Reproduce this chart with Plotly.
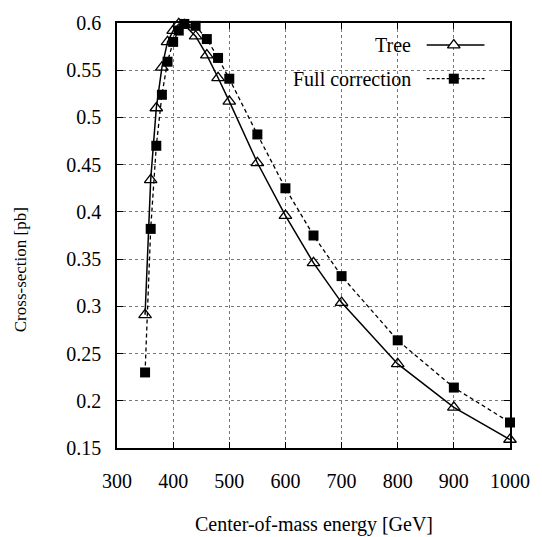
import plotly.graph_objects as go

energy = [350, 360, 370, 380, 390, 400, 410, 420, 440, 460, 480, 500, 550, 600, 650, 700, 800, 900, 1000]
tree = [0.291, 0.434, 0.510, 0.553, 0.580, 0.592, 0.599, 0.598, 0.586, 0.566, 0.542, 0.517, 0.452, 0.396, 0.346, 0.304, 0.239, 0.193, 0.159]
full = [0.230, 0.382, 0.470, 0.524, 0.559, 0.580, 0.592, 0.599, 0.597, 0.583, 0.563, 0.541, 0.482, 0.425, 0.375, 0.332, 0.264, 0.214, 0.177]

x_ticks = [300, 400, 500, 600, 700, 800, 900, 1000]
y_ticks = [0.15, 0.2, 0.25, 0.3, 0.35, 0.4, 0.45, 0.5, 0.55, 0.6]
y_tick_text = ["0.15", "0.2", "0.25", "0.3", "0.35", "0.4", "0.45", "0.5", "0.55", "0.6"]

FONT = "Times New Roman"

fig = go.Figure()
fig.add_trace(go.Scatter(x=energy, y=tree, mode="lines+markers", name="Tree",
                         line=dict(color="black", width=1.5),
                         marker=dict(symbol="triangle-up-open", size=11, color="black",
                                     line=dict(width=1.3, color="black")),
                         cliponaxis=False, showlegend=False))
fig.add_trace(go.Scatter(x=energy, y=full, mode="lines+markers", name="Full correction",
                         line=dict(color="black", width=1.3, dash="4px,3px"),
                         marker=dict(symbol="square", size=10, color="black"),
                         cliponaxis=False, showlegend=False))

# legend samples on an overlay axis (paper-like 0..1)
fig.add_trace(go.Scatter(x=[0.788, 0.935], y=[0.948, 0.948], mode="lines",
                         line=dict(color="black", width=1.5), xaxis="x2", yaxis="y2",
                         showlegend=False, hoverinfo="skip"))
fig.add_trace(go.Scatter(x=[0.857], y=[0.948], mode="markers",
                         marker=dict(symbol="triangle-up", size=11, color="white",
                                     line=dict(width=1.3, color="black")),
                         xaxis="x2", yaxis="y2", showlegend=False, hoverinfo="skip"))
fig.add_trace(go.Scatter(x=[0.788, 0.935], y=[0.869, 0.869], mode="lines",
                         line=dict(color="black", width=1.2, dash="3px,2px"), xaxis="x2", yaxis="y2",
                         showlegend=False, hoverinfo="skip"))
fig.add_trace(go.Scatter(x=[0.857], y=[0.869], mode="markers",
                         marker=dict(symbol="square", size=10, color="black"),
                         xaxis="x2", yaxis="y2", showlegend=False, hoverinfo="skip"))

plot_w = 542 - 117 - 24
plot_h = 537 - 20 - 89

fig.update_layout(
    width=542, height=537,
    margin=dict(l=117, r=24, t=20, b=89),
    paper_bgcolor="white", plot_bgcolor="white",
    font=dict(family=FONT, color="black", size=20),
    xaxis=dict(range=[300, 1000], tickvals=x_ticks, ticks="inside", ticklen=6,
               tickcolor="black", showline=True, linecolor="black", linewidth=1.5,
               mirror="ticks", showgrid=True, gridcolor="#777", griddash="dot", gridwidth=1,
               zeroline=False, tickfont=dict(family=FONT, size=20), ticklabelstandoff=14),
    yaxis=dict(range=[0.15, 0.6], tickvals=y_ticks, ticktext=y_tick_text, ticks="inside", ticklen=6,
               tickcolor="black", showline=True, linecolor="black", linewidth=1.5,
               mirror="ticks", showgrid=True, gridcolor="#777", griddash="dot", gridwidth=1,
               zeroline=False, tickfont=dict(family=FONT, size=20), ticklabelstandoff=10),
    xaxis2=dict(range=[0, 1], overlaying="x", visible=False),
    yaxis2=dict(range=[0, 1], overlaying="y", visible=False),
    annotations=[
        dict(text="Tree", x=0.753, y=0.948, xref="paper", yref="paper", xanchor="right",
             yanchor="middle", showarrow=False, font=dict(family=FONT, size=20)),
        dict(text="Full correction", x=0.753, y=0.869, xref="paper", yref="paper", xanchor="right",
             yanchor="middle", showarrow=False, font=dict(family=FONT, size=20)),
        dict(text="Cross-section [pb]", x=(18 - 117) / plot_w, y=1 - (268 - 20) / plot_h,
             xref="paper", yref="paper", xanchor="center", yanchor="middle",
             showarrow=False, textangle=-90, font=dict(family=FONT, size=17)),
        dict(text="Center-of-mass energy [GeV]", x=0.5, y=1 - (525 - 20) / plot_h,
             xref="paper", yref="paper", xanchor="center", yanchor="middle",
             showarrow=False, font=dict(family=FONT, size=20)),
    ],
)

fig.write_html("out.html")
